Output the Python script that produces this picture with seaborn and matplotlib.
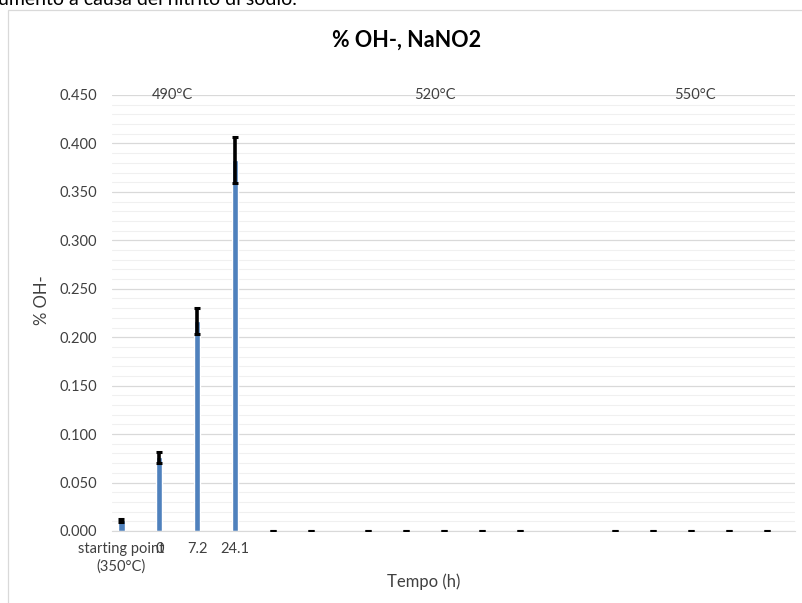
import numpy as np
import pandas as pd
import seaborn as sns
import matplotlib.pyplot as plt
from matplotlib.patches import Rectangle
from matplotlib.ticker import MultipleLocator, FormatStrFormatter

nan = np.nan

# x slots (half-category spacing as in the original sheet, blanks = empty rows)
time_labels = ["starting point\n(350°C)", "", "0", "", "7.2", "", "24.1", "",
               "", "", "", "", "", "", "", "", "", "", "", "", "", "", "",
               "", "", "", "", "", "", "", "", "", "", "", "", ""]
oh_values = [0.011, nan, 0.076, nan, 0.217, nan, 0.383, nan,
             0.0, nan, 0.0, nan, nan, 0.0, nan, 0.0, nan, 0.0, nan, 0.0, nan, 0.0,
             nan, nan, nan, nan, 0.0, nan, 0.0, nan, 0.0, nan, 0.0, nan, 0.0, nan]
oh_errors = [0.0015, nan, 0.006, nan, 0.0135, nan, 0.024, nan,
             0.0, nan, 0.0, nan, nan, 0.0, nan, 0.0, nan, 0.0, nan, 0.0, nan, 0.0,
             nan, nan, nan, nan, 0.0, nan, 0.0, nan, 0.0, nan, 0.0, nan, 0.0, nan]
temp_labels = ["490°C", "520°C", "550°C"]
temp_slots = [2.7, 16.5, 30.2]

slots = [str(i) for i in range(len(time_labels))]
df = pd.DataFrame({"slot": slots, "oh": oh_values, "err": oh_errors})

sns.set_style("white")
plt.rcParams["font.family"] = ["Lato", "DejaVu Sans"]

fig = plt.figure(figsize=(8.02, 6.03), dpi=100)
ax = fig.add_axes([112 / 802, 1 - 531 / 603, 683 / 802, (531 - 95) / 603])

sns.barplot(data=df, x="slot", y="oh", order=slots, color="#4F81BD",
            width=0.32, saturation=1, errorbar=None, ax=ax)
ax.errorbar(np.arange(len(slots)), df["oh"], yerr=df["err"], fmt="none",
            ecolor="black", elinewidth=2.6, capsize=2.3, capthick=2.2, zorder=4)

ax.set_xlim(-0.5, len(slots) - 0.5)
ax.set_ylim(0, 0.45)
ax.yaxis.set_major_locator(MultipleLocator(0.05))
ax.yaxis.set_minor_locator(MultipleLocator(0.01))
ax.yaxis.set_major_formatter(FormatStrFormatter("%.3f"))
ax.grid(axis="y", which="major", color="#d9d9d9", lw=0.9)
ax.grid(axis="y", which="minor", color="#f0f0f0", lw=0.8)
ax.set_axisbelow(True)
for s in ["top", "right", "left"]:
    ax.spines[s].set_visible(False)
ax.spines["bottom"].set_color("#d9d9d9")

ax.set_xticks(np.arange(len(slots)))
ax.set_xticklabels(time_labels, fontsize=10.5, color="#404040", linespacing=1.3)
ax.tick_params(axis="x", length=0, pad=8)
ax.tick_params(axis="y", which="both", length=0, labelsize=10.5,
               labelcolor="#404040", pad=11)
ax.set_xlabel("")
ax.set_ylabel("")

for lab, pos in zip(temp_labels, temp_slots):
    ax.text(pos, 0.450, lab, ha="center", va="center", fontsize=10.5, color="#404040")

fig.text(407 / 802, 1 - 40 / 603, "% OH-, NaNO2", ha="center", va="center",
         fontsize=15.5, fontweight="bold", color="black")
fig.text(42 / 802, 1 - 300 / 603, "% OH-", ha="center", va="center",
         rotation=90, fontsize=12, color="#404040")
fig.text(424 / 802, 1 - 582 / 603, "Tempo (h)", ha="center", va="center",
         fontsize=12, color="#404040")
fig.text(-0.003, 1 - 5 / 603, "umento a causa del nitrito di sodio.", ha="left",
         va="baseline", fontsize=14, color="black")

fig.patches.append(Rectangle((8 / 802, -0.05), 1.0, 1 - 10 / 603 + 0.05,
                             transform=fig.transFigure, fill=False,
                             edgecolor="#d9d9d9", lw=0.9))

fig.savefig("out.png", dpi=100)
